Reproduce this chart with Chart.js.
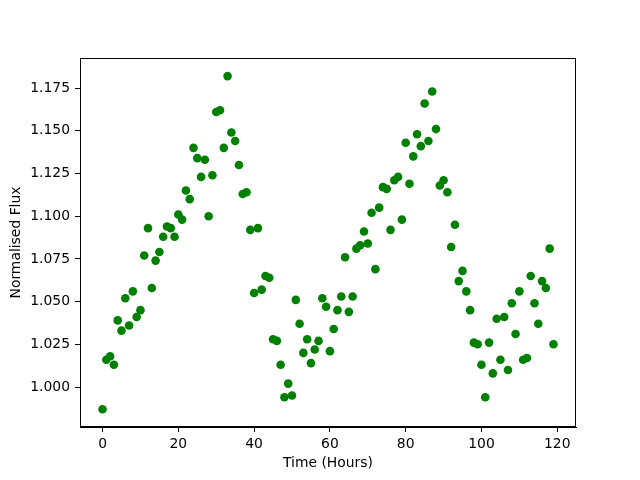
<!DOCTYPE html>
<html>
<head>
    <title>Normalised Flux</title>
    <script src="https://cdn.jsdelivr.net/npm/chart.js"></script>
    <style>
        body { margin: 0; background: #fff; }
        #wrap { width: 640px; height: 480px; }
    </style>
</head>
<body>
    <div id="wrap">
        <canvas id="fluxChart" width="640" height="480"></canvas>
    </div>
    <script>
        // observation time in hours
        const hours = [
            0, 1, 2, 3, 4, 5, 6, 7, 8, 9, 10, 11, 12, 13, 14, 15, 16, 17, 18, 19,
            20, 21, 22, 23, 24, 25, 26, 27, 28, 29, 30, 31, 32, 33, 34, 35, 36, 37, 38, 39,
            40, 41, 42, 43, 44, 45, 46, 47, 48, 49, 50, 51, 52, 53, 54, 55, 56, 57, 58, 59,
            60, 61, 62, 63, 64, 65, 66, 67, 68, 69, 70, 71, 72, 73, 74, 75, 76, 77, 78, 79,
            80, 81, 82, 83, 84, 85, 86, 87, 88, 89, 90, 91, 92, 93, 94, 95, 96, 97, 98, 99,
            100, 101, 102, 103, 104, 105, 106, 107, 108, 109, 110, 111, 112, 113, 114, 115, 116, 117, 118, 119
        ];

        // normalised flux per hour
        const flux = [
            0.987, 1.016, 1.018, 1.013, 1.039, 1.033, 1.052, 1.036, 1.056, 1.041,
            1.045, 1.077, 1.093, 1.058, 1.074, 1.079, 1.088, 1.094, 1.093, 1.088,
            1.101, 1.098, 1.115, 1.110, 1.140, 1.134, 1.123, 1.133, 1.100, 1.124,
            1.161, 1.162, 1.140, 1.182, 1.149, 1.144, 1.130, 1.113, 1.114, 1.092,
            1.055, 1.093, 1.057, 1.065, 1.064, 1.028, 1.027, 1.013, 0.994, 1.002,
            0.995, 1.051, 1.037, 1.020, 1.028, 1.014, 1.022, 1.027, 1.052, 1.047,
            1.021, 1.034, 1.045, 1.053, 1.076, 1.044, 1.053, 1.081, 1.083, 1.091,
            1.084, 1.102, 1.069, 1.105, 1.117, 1.116, 1.092, 1.121, 1.123, 1.098,
            1.143, 1.119, 1.135, 1.148, 1.141, 1.166, 1.144, 1.173, 1.151, 1.118,
            1.121, 1.114, 1.082, 1.095, 1.062, 1.068, 1.056, 1.045, 1.026, 1.025,
            1.013, 0.994, 1.026, 1.008, 1.040, 1.016, 1.041, 1.010, 1.049, 1.031,
            1.056, 1.016, 1.017, 1.065, 1.049, 1.037, 1.062, 1.058, 1.081, 1.025
        ];

        const xTitle = 'Time (Hours)';
        const yTitle = 'Normalised Flux';

        const points = hours.map((h, i) => ({ x: h, y: flux[i] }));

        // box round the plot area, like the top/right spines
        const frame = {
            id: 'frame',
            afterDraw(chart) {
                const a = chart.chartArea;
                const c = chart.ctx;
                c.save();
                c.strokeStyle = '#000';
                c.lineWidth = 1;
                c.strokeRect(a.left + 0.5, a.top + 0.5, a.right - a.left - 1, a.bottom - a.top - 1);
                c.restore();
            }
        };

        Chart.defaults.font.family = '"DejaVu Sans", sans-serif';
        Chart.defaults.font.size = 13.9;
        Chart.defaults.color = '#000';

        new Chart(document.getElementById('fluxChart'), {
            type: 'scatter',
            data: {
                datasets: [{
                    data: points,
                    backgroundColor: 'green',
                    borderColor: 'green',
                    borderWidth: 0,
                    pointRadius: 4.3,
                    pointHoverRadius: 4.3
                }]
            },
            options: {
                responsive: false,
                animation: false,
                layout: { padding: { top: 58, right: 64, left: 0, bottom: 0 } },
                plugins: { legend: { display: false }, tooltip: { enabled: false } },
                scales: {
                    x: {
                        type: 'linear',
                        min: -5.95,
                        max: 124.95,
                        afterFit: s => { s.height = 53; },
                        grid: { drawOnChartArea: false, color: '#000', tickLength: 5 },
                        border: { color: '#000' },
                        ticks: { stepSize: 20, includeBounds: false, padding: 4, maxRotation: 0,
                                 callback: v => String(Math.round(v)) },
                        title: { display: true, text: xTitle, padding: { top: 2, bottom: 8.5 } }
                    },
                    y: {
                        min: 0.97659,
                        max: 1.19261,
                        afterFit: s => { s.width = 80; },
                        grid: { drawOnChartArea: false, color: '#000', tickLength: 5 },
                        border: { color: '#000' },
                        ticks: { stepSize: 0.025, includeBounds: false, padding: 5,
                                 callback: v => v.toFixed(3) },
                        title: { display: true, text: yTitle, padding: { top: 8.5, bottom: 2 } }
                    }
                }
            },
            plugins: [frame]
        });
    </script>
</body>
</html>
